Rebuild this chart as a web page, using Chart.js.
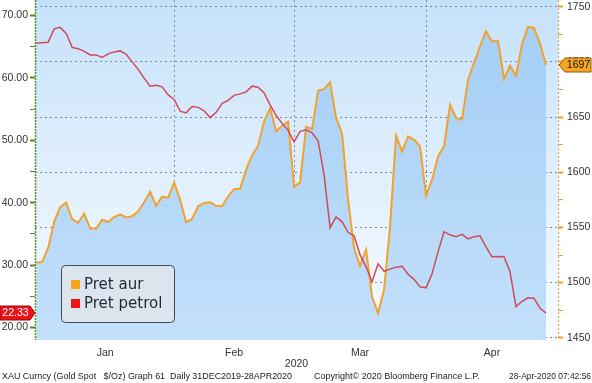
<!DOCTYPE html>
<html>
<head>
<meta charset="utf-8">
<script src="https://cdn.jsdelivr.net/npm/chart.js@4"></script>
<style>
  body { margin: 0; background: #fff; }
</style>
</head>
<body>
<canvas id="chartGoldOil" width="592" height="383"></canvas>
<script>
// Weekday calendar 31 Dec 2019 .. 30 Apr 2020 (axis runs to end of April, data stops 28 Apr)
const days = [];
for (let d = new Date(Date.UTC(2019, 11, 31)); d <= new Date(Date.UTC(2020, 3, 30)); d.setUTCDate(d.getUTCDate() + 1)) {
  const wd = d.getUTCDay();
  if (wd !== 0 && wd !== 6) days.push(new Date(d));
}
const monthNames = ["Jan", "Feb", "Mar", "Apr"];

// Gold spot, $/oz (right axis)
const goldPrice = [
  1518.2, 1518.6, 1531.6, 1555.1, 1568.3, 1572.4, 1557.4, 1554.2, 1562.4, 1549.2,
  1548.8, 1556.9, 1554.9, 1559.4, 1561.9, 1559.0, 1560.1, 1564.6, 1572.8, 1582.3,
  1569.6, 1577.8, 1576.9, 1590.5, 1575.1, 1554.7, 1557.8, 1569.2, 1572.2, 1572.8,
  1569.6, 1569.2, 1578.2, 1584.6, 1585.0, 1602.3, 1615.4, 1624.0, 1646.2, 1658.0,
  1637.2, 1642.1, 1645.8, 1586.9, 1590.8, 1641.2, 1639.0, 1673.9, 1675.2, 1681.4,
  1649.4, 1634.9, 1575.1, 1531.3, 1515.3, 1529.8, 1487.2, 1472.4, 1493.5, 1550.9,
  1633.1, 1618.8, 1632.4, 1629.5, 1623.4, 1578.7, 1593.2, 1614.3, 1623.4, 1661.2,
  1649.1, 1647.6, 1683.8, 1699.0, 1714.0, 1727.6, 1718.5, 1719.2, 1684.5, 1696.5,
  1687.5, 1715.6, 1731.6, 1730.7, 1716.5, 1697.0
];

// Oil price (left axis)
const oilPrice = [
  65.58, 65.66, 65.74, 67.87, 68.11, 67.15, 64.90, 64.70, 64.26, 63.70,
  63.70, 63.30, 63.86, 64.18, 64.34, 63.78, 62.58, 61.38, 59.97, 58.69,
  58.85, 58.57, 57.29, 56.57, 54.68, 54.41, 55.42, 55.29, 54.73, 53.65,
  54.49, 55.93, 56.41, 57.21, 57.45, 57.77, 58.69, 58.53, 57.61, 55.69,
  54.00, 52.72, 51.60, 49.76, 51.44, 51.68, 51.20, 49.92, 44.47, 35.98,
  37.74, 36.94, 35.26, 34.70, 31.65, 29.73, 27.32, 30.21, 29.01, 29.36,
  29.68, 29.81, 28.53, 27.72, 26.52, 26.36, 28.61, 32.13, 35.34, 34.86,
  34.54, 34.94, 34.21, 34.54, 34.70, 32.93, 31.33, 31.38, 31.33, 28.93,
  23.32, 24.20, 24.76, 24.71, 23.08, 22.33
];

// Axis ticks (minor ones carry no label)
const goldTicks = [1450, 1475, 1500, 1525, 1550, 1575, 1600, 1625, 1650, 1675, 1700, 1725, 1750];
const oilTicks = [20, 25, 30, 35, 40, 45, 50, 55, 60, 65, 70];

const seriesLabels = ["Pret aur", "Pret petrol"];
const legendColors = ["#f7a21b", "#ee1414"];

const footerTexts = [
  "XAU Curncy (Gold Spot   $/Oz) Graph 61  Daily 31DEC2019-28APR2020",
  "Copyright\u00a9 2020 Bloomberg Finance L.P.",
  "28-Apr-2020 07:42:56"
];

// month boundaries / label centres in weekday-index units
const monthBounds = [];
const monthMids = [];
monthNames.forEach((m, k) => {
  const idx = days.map((d, i) => (d.getUTCFullYear() === 2020 && d.getUTCMonth() === k ? i : -1)).filter(i => i >= 0);
  const first = idx[0], last = idx[idx.length - 1];
  monthMids.push((first + last) / 2 - 0.5);
  if (k < monthNames.length - 1) monthBounds.push(last);
});

const gridGrey = "#7f8d9a";
const tickFont = { family: "'Liberation Sans', Arial, sans-serif", size: 10.5 };

const noPad = s => { s.paddingTop = 0; s.paddingBottom = 0; s.paddingLeft = 0; s.paddingRight = 0; };

const bgPlugin = {
  id: "bgPlugin",
  beforeDraw(chart) {
    const { ctx, chartArea: a } = chart;
    ctx.save();
    ctx.fillStyle = "#ffffff";
    ctx.fillRect(0, 0, chart.width, chart.height);
    const g = ctx.createLinearGradient(0, a.top, 0, a.bottom);
    g.addColorStop(0, "#c5e1fa");
    g.addColorStop(0.5, "#e0effd");
    g.addColorStop(1, "#f7fbff");
    ctx.fillStyle = g;
    ctx.fillRect(a.left, a.top, a.right - a.left, a.bottom - a.top + 1);
    ctx.restore();
  }
};

const overlayPlugin = {
  id: "overlayPlugin",
  afterDraw(chart) {
    const { ctx, chartArea: a, scales } = chart;
    ctx.save();

    // axis lines
    ctx.setLineDash([2, 1]);
    ctx.strokeStyle = "#5a8f1f";
    ctx.lineWidth = 1.5;
    ctx.beginPath(); ctx.moveTo(a.left + 0.5, a.top); ctx.lineTo(a.left + 0.5, a.bottom); ctx.stroke();
    ctx.setLineDash([2, 2]);
    ctx.strokeStyle = "#e0a040";
    ctx.lineWidth = 1;
    ctx.beginPath(); ctx.moveTo(a.right + 0.5, a.top); ctx.lineTo(a.right + 0.5, a.bottom); ctx.stroke();
    ctx.setLineDash([]);

    // last value tag, oil (left)
    const oilLast = oilPrice[oilPrice.length - 1];
    let y = Math.round(scales.yOil.getPixelForValue(oilLast));
    ctx.beginPath();
    ctx.moveTo(0, y - 7); ctx.lineTo(a.left - 5, y - 7); ctx.lineTo(a.left, y);
    ctx.lineTo(a.left - 5, y + 7); ctx.lineTo(0, y + 7); ctx.closePath();
    ctx.fillStyle = "#ea1119"; ctx.fill();
    ctx.strokeStyle = "#9a0a0a"; ctx.lineWidth = 1; ctx.stroke();
    ctx.fillStyle = "#ffffff";
    ctx.font = "10.5px 'Liberation Sans', Arial, sans-serif";
    ctx.textAlign = "center"; ctx.textBaseline = "middle";
    ctx.fillText(oilLast.toFixed(2), 15.5, y + 0.5);

    // last value tag, gold (right)
    const goldLast = goldPrice[goldPrice.length - 1];
    y = Math.round(scales.yGold.getPixelForValue(goldLast));
    const x0 = a.right + 1;
    ctx.beginPath();
    ctx.moveTo(x0, y); ctx.lineTo(x0 + 6, y - 7); ctx.lineTo(chart.width - 1, y - 7);
    ctx.lineTo(chart.width - 1, y + 7); ctx.lineTo(x0 + 6, y + 7); ctx.closePath();
    ctx.fillStyle = "#f6a623"; ctx.fill();
    ctx.strokeStyle = "#8a5a10"; ctx.stroke();
    ctx.fillStyle = "#111111";
    ctx.fillText(Math.round(goldLast).toString(), (x0 + 6 + chart.width) / 2, y + 0.5);

    // legend box
    const lx = 61, ly = 265, lw = 113, lh = 57;
    ctx.beginPath();
    ctx.roundRect(lx + 0.5, ly + 0.5, lw, lh, 4);
    ctx.fillStyle = "#dce5ee"; ctx.fill();
    ctx.strokeStyle = "#3e4b58"; ctx.lineWidth = 1; ctx.stroke();
    ctx.font = "15px 'DejaVu Sans', sans-serif";
    ctx.textAlign = "left"; ctx.textBaseline = "middle";
    seriesLabels.forEach((t, i) => {
      const cy = ly + 20 + i * 19;
      ctx.fillStyle = legendColors[i];
      ctx.fillRect(lx + 10, cy - 5, 9, 9);
      ctx.fillStyle = "#1d2a38";
      ctx.fillText(t, lx + 23, cy);
    });

    // footer
    ctx.font = "9px 'Liberation Sans', Arial, sans-serif";
    ctx.fillStyle = "#222222";
    ctx.textBaseline = "alphabetic";
    ctx.fillText(footerTexts[0], 2, 379, 290);
    ctx.fillText(footerTexts[1], 314, 379, 168);
    ctx.fillText(footerTexts[2], 509, 379, 82);
    ctx.restore();
  }
};

const chartGoldOil = document.getElementById("chartGoldOil");
new Chart(chartGoldOil, {
  type: "line",
  data: {
    datasets: [
      {
        label: seriesLabels[0],
        data: goldPrice.map((v, i) => ({ x: i, y: v })),
        yAxisID: "yGold",
        borderColor: "#f0a22f",
        borderWidth: 2,
        pointRadius: 0,
        fill: "start",
        backgroundColor: (c) => {
          const a = c.chart.chartArea;
          if (!a) return "#b0d5f7";
          const g = c.chart.ctx.createLinearGradient(0, a.top, 0, a.bottom);
          g.addColorStop(0, "#a2cdf5");
          g.addColorStop(1, "#c3e0fb");
          return g;
        },
        order: 2,
      },
      {
        label: seriesLabels[1],
        data: oilPrice.map((v, i) => ({ x: i, y: v })),
        yAxisID: "yOil",
        borderColor: "#d24a58",
        borderWidth: 1.5,
        pointRadius: 0,
        fill: false,
        order: 1,
      },
    ],
  },
  options: {
    responsive: false,
    animation: false,
    devicePixelRatio: 1,
    layout: { padding: 0 },
    plugins: { legend: { display: false }, tooltip: { enabled: false } },
    scales: {
      x: {
        type: "linear",
        min: -0.2,
        max: days.length - 1,
        afterBuildTicks: s => {
          s.ticks = monthBounds.concat(monthMids).map(v => ({ value: v }));
        },
        afterFit: s => { s.height = 43; noPad(s); },
        ticks: {
          autoSkip: false,
          maxRotation: 0,
          minRotation: 0,
          padding: 7,
          color: "#333333",
          font: tickFont,
          callback: v => {
            const k = monthMids.indexOf(v);
            return k >= 0 ? monthNames[k] : "";
          },
        },
        grid: {
          drawTicks: false,
          color: c => (c.tick && monthBounds.includes(c.tick.value) ? gridGrey : "rgba(0,0,0,0)"),
        },
        border: { display: false, dash: [2, 3] },
        title: {
          display: true,
          text: "2020",
          color: "#333333",
          font: tickFont,
          padding: { top: 0, bottom: 13 },
        },
      },
      yOil: {
        type: "linear",
        position: "left",
        min: 18,
        max: 72.5,
        afterBuildTicks: s => { s.ticks = oilTicks.map(v => ({ value: v })); },
        afterFit: s => { s.width = 35; noPad(s); },
        ticks: {
          padding: 2,
          color: "#333333",
          font: tickFont,
          callback: v => (v % 10 === 0 ? v.toFixed(2) : ""),
        },
        grid: {
          drawOnChartArea: false,
          tickLength: 5,
          tickColor: "#4f8f1c",
          tickWidth: c => (c.tick && c.tick.value % 10 === 0 ? 2 : 1),
        },
        border: { display: false },
      },
      yGold: {
        type: "linear",
        position: "right",
        min: 1448,
        max: 1756,
        afterBuildTicks: s => { s.ticks = goldTicks.map(v => ({ value: v })); },
        afterFit: s => { s.width = 34; noPad(s); },
        ticks: {
          padding: 4,
          color: "#333333",
          font: tickFont,
          callback: v => (v % 50 === 0 ? String(v) : ""),
        },
        grid: {
          tickLength: 5,
          tickColor: "#f0a020",
          tickWidth: c => (c.tick && c.tick.value % 50 === 0 ? 2 : 1),
          color: c => (c.tick && c.tick.value % 50 === 0 ? gridGrey : "rgba(0,0,0,0)"),
        },
        border: { display: false, dash: [2, 3] },
      },
    },
  },
  plugins: [bgPlugin, overlayPlugin],
});
</script>
</body>
</html>
